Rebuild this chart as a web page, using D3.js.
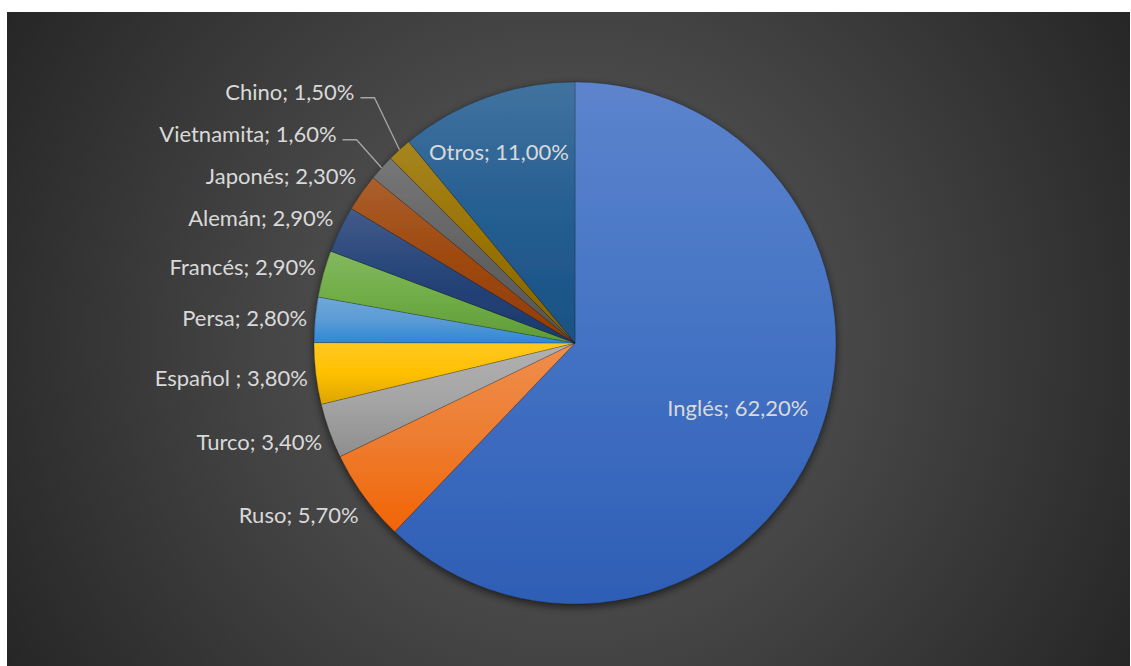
<!DOCTYPE html>
<html>
<head>
<meta charset="utf-8">
<script src="https://cdn.jsdelivr.net/npm/d3@7"></script>
<style>
  html, body { margin: 0; padding: 0; background: #ffffff; }
  svg { display: block; }
</style>
</head>
<body>
<svg id="chart" width="1131" height="666"></svg>
<script>
// Idiomas más usados en la web (% de sitios)
const categories = ["Inglés", "Ruso", "Turco", "Español ", "Persa", "Francés", "Alemán", "Japonés", "Vietnamita", "Chino", "Otros"];
const shares = [62.2, 5.7, 3.4, 3.8, 2.8, 2.9, 2.9, 2.3, 1.6, 1.5, 11.0];
const palette = ["#4472C4", "#ED7D31", "#A5A5A5", "#FFC000", "#5B9BD5", "#70AD47",
                 "#264478", "#9E480E", "#636363", "#997300", "#255E91"];

const W = 1131, H = 666;
const cx = 575, cy = 343, R = 261;

const svg = d3.select("#chart");
const defs = svg.append("defs");

// dark chart area with a soft radial glow behind the pie
const bg = defs.append("radialGradient")
  .attr("id", "bgGrad")
  .attr("gradientUnits", "userSpaceOnUse")
  .attr("cx", 568).attr("cy", 339).attr("r", 650);
bg.append("stop").attr("offset", 0).attr("stop-color", "#606060");
bg.append("stop").attr("offset", 1).attr("stop-color", "#262626");
svg.append("rect")
  .attr("x", 7).attr("y", 12)
  .attr("width", W - 8).attr("height", H - 12)
  .attr("fill", "url(#bgGrad)");

// outer shadow under the pie
const shadow = defs.append("filter").attr("id", "pieShadow")
  .attr("x", "-10%").attr("y", "-10%").attr("width", "120%").attr("height", "125%");
shadow.append("feDropShadow")
  .attr("dx", 0).attr("dy", 3).attr("stdDeviation", 4)
  .attr("flood-color", "#000").attr("flood-opacity", 0.6);

const data = categories.map((name, i) => ({ name, v: shares[i], color: palette[i] }));
const pie = d3.pie().sort(null).value(d => d.v);
const arcs = pie(data);
const arcGen = d3.arc().innerRadius(0).outerRadius(R);

// vertical gradient per slice: light top, base middle, deeper bottom
arcs.forEach((d, i) => {
  const base = d3.hsl(d.data.color);
  const top = d3.interpolateRgb(d.data.color, "#ffffff")(0.13);
  const bottom = d3.hsl(base.h, Math.min(1, base.s * 1.15), base.l * 0.86);
  const g = defs.append("linearGradient").attr("id", "slice" + i)
    .attr("x1", 0).attr("y1", 0).attr("x2", 0).attr("y2", 1);
  g.append("stop").attr("offset", 0).attr("stop-color", top);
  g.append("stop").attr("offset", 0.5).attr("stop-color", d.data.color);
  g.append("stop").attr("offset", 1).attr("stop-color", bottom.formatHex());
});

const gPie = svg.append("g")
  .attr("transform", `translate(${cx},${cy})`)
  .attr("filter", "url(#pieShadow)");
gPie.selectAll("path")
  .data(arcs)
  .join("path")
  .attr("d", arcGen)
  .attr("fill", (d, i) => `url(#slice${i})`)
  .attr("stroke", "rgba(0,0,0,0.35)")
  .attr("stroke-width", 0.6)
  .attr("stroke-linejoin", "round");

// ---- data labels ----
const fmt = v => d3.format(".2f")(v).replace(".", ",") + "%";
const labelText = d => `${d.data.name}; ${fmt(d.data.v)}`;
const midAngle = d => (d.startAngle + d.endAngle) / 2;
const insideShare = 10;   // larger slices carry their label inside

const gLines = svg.append("g")
  .attr("fill", "none")
  .attr("stroke", "#a6a6a6")
  .attr("stroke-width", 1.3);
const gLabels = svg.append("g")
  .attr("font-family", "Lato, 'Open Sans', sans-serif")
  .attr("font-size", 22)
  .attr("fill", "#d9d9d9");

const items = arcs.map(d => {
  const t = gLabels.append("text").text(labelText(d)).attr("dy", "0.36em");
  return { d, t, w: t.node().getComputedTextLength(), a: midAngle(d) };
});

// inside labels: pushed out until the far corner nears the rim,
// then kept clear of the slice's straight edges
const hh = 12;
items.filter(it => it.d.data.v > insideShare).forEach(it => {
  const s = Math.sin(it.a), c = -Math.cos(it.a);
  const hw = it.w / 2;
  const kx = Math.sign(s) * hw, ky = Math.sign(c) * hh;
  let r0 = 0;
  for (let r = 0; r < R; r += 0.5) {
    if (Math.hypot(r * s + kx, r * c + ky) > R - 15) break;
    r0 = r;
  }
  let x = r0 * s, y = r0 * c;
  [it.d.startAngle, it.d.endAngle].forEach(b => {
    const ux = Math.sin(b), uy = -Math.cos(b);
    let nx = -uy, ny = ux;
    if (nx * s + ny * c < 0) { nx = -nx; ny = -ny; }
    let minD = Infinity;
    for (const sx of [-1, 1]) for (const sy of [-1, 1])
      minD = Math.min(minD, (x + sx * hw) * nx + (y + sy * hh) * ny);
    if (minD < 6) { x += (6 - minD) * nx; y += (6 - minD) * ny; }
  });
  it.t.attr("x", cx + x).attr("y", cy + y).attr("text-anchor", "middle");
});

// outside labels
const outside = items.filter(it => it.d.data.v <= insideShare);
outside.forEach(it => {
  const s = Math.sin(it.a), c = Math.cos(it.a);
  it.left = s < 0;
  it.x = cx + (R + 14) * s + (it.left ? 6 : -6);
  it.y = cy + 1 - (R + 29) * c;
  it.y0 = it.y;
});

// keep neighbouring labels apart vertically
const gap = 42;
const leftCol = outside.filter(it => it.left).sort((a, b) => b.y - a.y);
for (let i = 1; i < leftCol.length; i++)
  if (leftCol[i].y > leftCol[i - 1].y - gap) leftCol[i].y = leftCol[i - 1].y - gap;
const rightCol = outside.filter(it => !it.left).sort((a, b) => a.y - b.y);
for (let i = 1; i < rightCol.length; i++)
  if (rightCol[i].y < rightCol[i - 1].y + gap) rightCol[i].y = rightCol[i - 1].y + gap;

// moved labels get a leader line back to their slice
outside.forEach(it => {
  const dir = it.left ? -1 : 1;
  if (Math.abs(it.y - it.y0) > 8) {
    const px = cx + R * Math.sin(it.a), py = cy - R * Math.cos(it.a);
    const ex = px + dir * 25, ly = it.y + 6;
    it.x = ex + dir * 20;
    gLines.append("polyline")
      .attr("points", [[it.x - dir * 6, ly], [ex, ly], [px, py]].map(p => p.join(",")).join(" "));
  }
  it.t.attr("x", it.x).attr("y", it.y).attr("text-anchor", it.left ? "end" : "start");
});
</script>
</body>
</html>
